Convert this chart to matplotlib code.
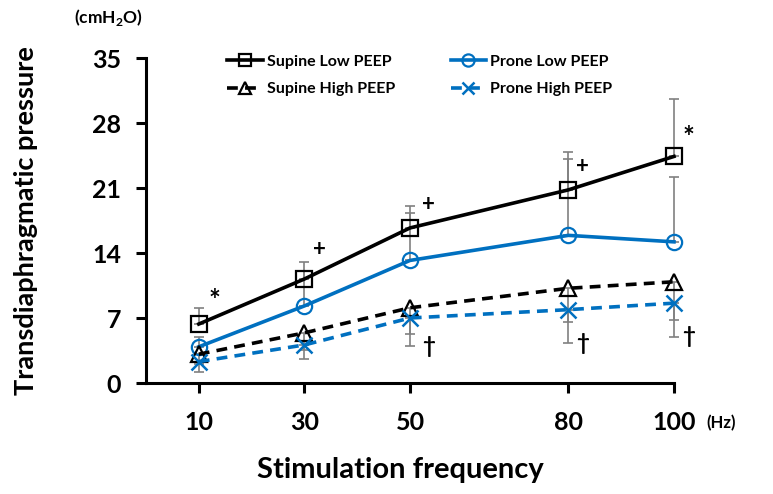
import matplotlib
matplotlib.use("Agg")
import matplotlib.pyplot as plt

freq = [10, 30, 50, 80, 100]
xtick_labels = ["10", "30", "50", "80", "100"]
yticks = [0, 7, 14, 21, 28, 35]

supine_low = [6.35, 11.2, 16.7, 20.8, 24.4]
supine_low_err = [1.75, 1.8, 2.4, 4.1, 6.2]
prone_low = [3.9, 8.3, 13.2, 15.9, 15.2]
prone_low_err = [1.05, 3.8, 5.1, 8.2, 7.0]
supine_high = [3.1, 5.4, 8.1, 10.2, 10.9]
supine_high_err = [1.0, 1.85, 2.8, 3.6, 4.1]
prone_high = [2.3, 4.1, 7.0, 7.9, 8.6]
prone_high_err = [1.1, 1.5, 3.0, 3.6, 3.6]

annotations = [
    (12.9, 9.3, "*"), (32.8, 14.4, "+"), (53.5, 19.2, "+"), (53.5, 3.9, "†"),
    (82.7, 23.3, "+"), (82.7, 4.3, "†"), (102.8, 26.9, "*"), (102.8, 5.0, "†"),
]

BLUE = "#0070C0"
FONT = "Lato"
plt.rcParams['font.family'] = [FONT, 'DejaVu Sans']
plt.rcParams['mathtext.fontset'] = 'custom'
plt.rcParams['mathtext.bf'] = 'Lato:bold'
plt.rcParams['mathtext.rm'] = 'Lato:bold'

fig = plt.figure(figsize=(7.73, 4.94), dpi=100)
ax = fig.add_axes([146/773, 1-383/494, (674-146)/773, (383-58)/494])

zeros = [0]*5
ecol = "#808080"
# error bars (one-sided)
ax.errorbar(freq, supine_low, yerr=[zeros, supine_low_err], fmt='none', ecolor=ecol,
            elinewidth=1.2, capsize=3.5, capthick=1.2, zorder=2, clip_on=False)
ax.errorbar(freq, prone_low, yerr=[zeros, prone_low_err], fmt='none', ecolor=ecol,
            elinewidth=1.2, capsize=3.5, capthick=1.2, zorder=2, clip_on=False)
ax.errorbar(freq, supine_high, yerr=[supine_high_err, zeros], fmt='none', ecolor=ecol,
            elinewidth=1.2, capsize=3.5, capthick=1.2, zorder=2, clip_on=False)
ax.errorbar(freq, prone_high, yerr=[prone_high_err, zeros], fmt='none', ecolor=ecol,
            elinewidth=1.2, capsize=3.5, capthick=1.2, zorder=2, clip_on=False)

l1, = ax.plot(freq, supine_low, color='black', lw=2.6, marker='s', ms=11,
              mfc='none', mec='black', mew=1.6, label='Supine Low PEEP', zorder=4, clip_on=False)
l2, = ax.plot(freq, prone_low, color=BLUE, lw=2.6, marker='o', ms=11,
              mfc='none', mec=BLUE, mew=1.6, label='Prone Low PEEP', zorder=4, clip_on=False)
l3, = ax.plot(freq, supine_high, color='black', lw=2.6, ls=(0, (3, 2)), marker='^', ms=11,
              mfc='none', mec='black', mew=1.6, label='Supine High PEEP', zorder=4, clip_on=False)
l4, = ax.plot(freq, prone_high, color=BLUE, lw=2.6, ls=(0, (3, 2)), marker='x', ms=11,
              mfc='none', mec=BLUE, mew=1.8, label='Prone High PEEP', zorder=4, clip_on=False)

for x, y, s in annotations:
    fs = 20 if s == "*" else 16
    yy = y - 0.5 if s == "*" else y
    ax.text(x, yy, s, ha='center', va='center', fontsize=fs, fontweight='bold',
            family=[FONT, 'DejaVu Sans'], clip_on=False)

ax.set_xlim(0, 100)
ax.set_ylim(0, 35)
ax.set_xticks(freq)
ax.set_xticklabels(xtick_labels)
ax.set_yticks(yticks)
for sp in ['top', 'right']:
    ax.spines[sp].set_visible(False)
for sp in ['left', 'bottom']:
    ax.spines[sp].set_linewidth(2.2)
ax.tick_params(axis='both', direction='out', length=7, width=2.2, labelsize=18)
ax.tick_params(axis='y', pad=11)
ax.tick_params(axis='x', pad=13)
for lab in ax.get_xticklabels() + ax.get_yticklabels():
    lab.set_fontweight('bold')

ax.set_ylabel("Transdiaphragmatic pressure", fontsize=19.5, fontweight='bold')
ax.yaxis.set_label_coords((38-146)/528, 0.5)
fig.text(400/773, 1-470/494, "Stimulation frequency", ha='center', va='center',
         fontsize=21, fontweight='bold')
fig.text(721/773, 1-423/494, "(Hz)", ha='center', va='center', fontsize=12, fontweight='bold')
fig.text(108/773, 1-18/494, "(cmH$_\\mathbf{2}$O)", ha='center', va='center',
         fontsize=12.5, fontweight='bold')

leg = ax.legend(handles=[l1, l3, l2, l4], ncol=2, frameon=False,
                loc='upper left', bbox_to_anchor=(213/773, 1-40/494),
                bbox_transform=fig.transFigure, prop={'weight': 'bold', 'size': 11.5},
                handlelength=2.2, handletextpad=0.25, columnspacing=3.5, labelspacing=0.85,
                markerscale=0.8)

fig.savefig("out.png", dpi=100)
